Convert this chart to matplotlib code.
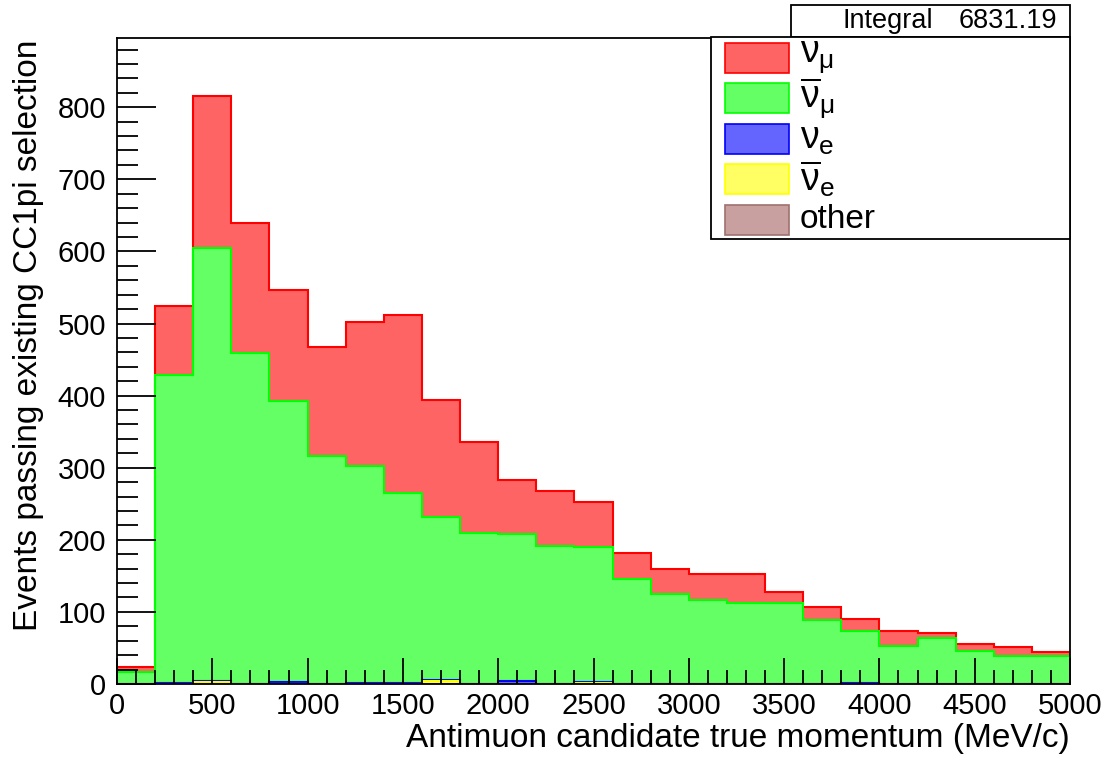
import numpy as np
import matplotlib
matplotlib.use("Agg")
import matplotlib.pyplot as plt
from matplotlib.patches import Rectangle

plt.rcParams['font.family'] = ['Liberation Sans', 'DejaVu Sans']
plt.rcParams['mathtext.fontset'] = 'custom'
plt.rcParams['mathtext.rm'] = 'Liberation Sans'
plt.rcParams['mathtext.it'] = 'Liberation Sans'

# bin edges (MeV/c), 25 bins of 200
edges = np.arange(0, 5001, 200)

# stacked components per bin
numu    = [6, 96, 211, 181, 155, 152, 200, 247, 163, 125, 75, 75, 63,
           37, 35, 36, 40, 16, 18, 17, 21, 7, 9, 13, 5]
numubar = [17, 427, 601, 459, 389, 316, 301, 264, 226, 210, 204, 192, 187,
           145, 125, 116, 113, 112, 89, 71, 53, 64, 46, 39, 39]
nue     = [0, 1, 1, 0, 3, 0, 1, 1, 1, 0, 4, 0, 1,
           0, 0, 0, 0, 0, 0, 2, 0, 0, 0, 0, 0]
nuebar  = [0, 0, 3, 0, 0, 0, 0, 0, 4, 0, 0, 0, 2,
           0, 0, 0, 0, 0, 0, 0, 0, 0, 0, 0, 0]
other   = [0] * 25

labels = [r'$\nu_{\mu}$', r'$\overline{\nu}_{\mu}$', r'$\nu_{e}$',
          r'$\overline{\nu}_{e}$', 'other']
integral_text = "6831.19"

face = ['#ff6464', '#64ff64', '#6464ff', '#ffff64', '#c8a0a0']
edge = ['#ff0000', '#00ff00', '#0000ff', '#ffff00', '#a07070']

comps = [numu, numubar, nue, nuebar, other]
# cumulative from bottom (other) to top (numu)
cum = []
run = np.zeros(25)
for c in comps[::-1]:
    run = run + np.array(c, dtype=float)
    cum.append(run.copy())
cum = cum[::-1]  # cum[0] = total (numu top)

W, H = 1109, 758
def fx(px):
    return px / W
def fy(py):
    return 1 - py / H

fig = plt.figure(figsize=(11.09, 7.58), dpi=100)
ax = fig.add_axes([fx(117), fy(684), fx(1070) - fx(117), fy(38) - fy(684)])

for i in range(5):
    ax.stairs(cum[i], edges, baseline=0, fill=True, color=face[i], lw=0)
    ax.stairs(cum[i], edges, baseline=None, color=edge[i], lw=1.5)

ax.set_xlim(0, 5000)
ax.set_ylim(0, 896)
ax.set_xticks(np.arange(0, 5001, 500))
ax.set_xticks(np.arange(0, 5001, 100), minor=True)
ax.set_yticks(np.arange(0, 801, 100))
ax.set_yticks(np.arange(0, 881, 20), minor=True)
ax.tick_params(axis='both', which='both', direction='in', labelsize=21,
               top=False, right=False, width=1.3)
ax.tick_params(axis='y', which='major', length=28, pad=8)
ax.tick_params(axis='y', which='minor', length=15)
ax.tick_params(axis='x', which='major', length=19, pad=6)
ax.tick_params(axis='x', which='minor', length=10)
for s in ax.spines.values():
    s.set_linewidth(1.3)

fig.text(fx(29), fy(40), "Events passing existing CC1pi selection",
         rotation=90, ha='center', va='top', fontsize=24)
fig.text(fx(1070), fy(739), "Antimuon candidate true momentum (MeV/c)",
         ha='right', va='center', fontsize=24)

# stats box
fig.patches.append(Rectangle((fx(791), fy(37)), fx(1070) - fx(791), fy(5) - fy(37),
                             transform=fig.transFigure, fc='white', ec='black',
                             lw=1.3, zorder=5))
fig.text(fx(843), fy(21), "Integral", ha='left', va='center', fontsize=19.5, zorder=6)
fig.text(fx(1057), fy(21), integral_text, ha='right', va='center', fontsize=19.5, zorder=6)

# legend box
fig.patches.append(Rectangle((fx(711), fy(239)), fx(1070) - fx(711), fy(37) - fy(239),
                             transform=fig.transFigure, fc='white', ec='black',
                             lw=1.3, zorder=5))
row_y = [58 + 40.4 * k for k in range(5)]
for k in range(5):
    yc = row_y[k]
    fig.patches.append(Rectangle((fx(725), fy(yc + 15)), fx(789) - fx(725), fy(yc - 15) - fy(yc + 15),
                                 transform=fig.transFigure, fc=face[k], ec=edge[k],
                                 lw=1.2, zorder=6))
    fig.text(fx(800), fy(yc), labels[k], ha='left', va='center',
             fontsize=27 if k < 4 else 24, zorder=7)

fig.savefig("out.png", dpi=100)
